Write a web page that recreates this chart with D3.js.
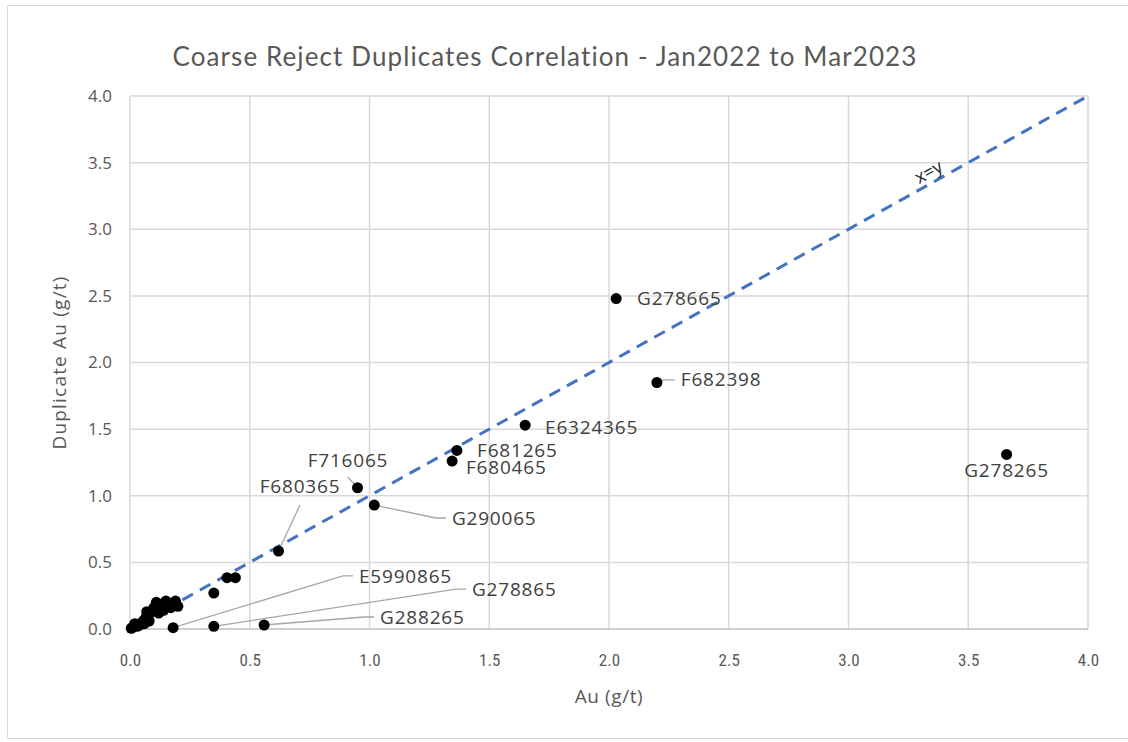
<!DOCTYPE html>
<html>
<head>
<meta charset="utf-8">
<script src="https://cdn.jsdelivr.net/npm/d3@7"></script>
<style>
  body { margin: 0; background: #fff; }
  svg { display: block; }
</style>
</head>
<body>
<svg id="chart" width="1128" height="742"></svg>
<script>
// ---- data ----
const title = "Coarse Reject Duplicates Correlation - Jan2022 to Mar2023";
const xTitle = "Au (g/t)";
const yTitle = "Duplicate Au (g/t)";
const tickValues = [0, 0.5, 1.0, 1.5, 2.0, 2.5, 3.0, 3.5, 4.0];

// unlabelled original / duplicate pairs
const auOriginal = [0.005, 0.01, 0.015, 0.02, 0.03, 0.02, 0.04, 0.05, 0.06, 0.06, 0.07, 0.08, 0.07, 0.09, 0.1, 0.11, 0.12, 0.13, 0.14, 0.15, 0.17, 0.19, 0.2, 0.35, 0.405, 0.44];
const auDuplicate = [0.005, 0.01, 0.02, 0.03, 0.02, 0.04, 0.03, 0.05, 0.07, 0.04, 0.1, 0.06, 0.13, 0.13, 0.16, 0.2, 0.12, 0.17, 0.14, 0.21, 0.16, 0.21, 0.17, 0.27, 0.385, 0.385];

// labelled samples
const sampleIds = ["G278665", "F682398", "E6324365", "F681265", "F680465", "F716065", "G290065", "F680365", "G278265", "E5990865", "G278865", "G288265"];
const sampleAu = [2.03, 2.2, 1.65, 1.365, 1.345, 0.95, 1.02, 0.62, 3.66, 0.18, 0.35, 0.56];
const sampleDup = [2.48, 1.85, 1.53, 1.34, 1.26, 1.06, 0.93, 0.585, 1.31, 0.01, 0.02, 0.03];
// label anchor positions in data units (x, y) and whether a leader line is drawn
const labelAu = [2.117, 2.30, 1.733, 1.449, 1.403, 0.91, 1.344, 0.71, 3.66, 0.956, 1.428, 1.044];
const labelDup = [2.48, 1.87, 1.516, 1.34, 1.21, 1.268, 0.833, 1.073, 1.193, 0.398, 0.30, 0.09];
const leader = [false, true, false, false, false, true, true, true, false, true, true, true];

// ---- layout ----
const svg = d3.select("#chart");
const W = 1128, H = 742;
const m = { left: 130, right: 40, top: 96, bottom: 113 };
const x = d3.scaleLinear().domain([0, 4]).range([m.left, W - m.right]);
const y = d3.scaleLinear().domain([0, 4]).range([H - m.bottom, m.top]);

const labelFont = "'Open Sans', 'Noto Sans', sans-serif";
const tickFont = "'Liberation Sans Narrow', 'Roboto Condensed', 'Liberation Sans', sans-serif";

// outer border
svg.append("rect").attr("x", 7.5).attr("y", 5.5).attr("width", W - 6).attr("height", 733)
  .attr("fill", "#fff").attr("stroke", "#d9d9d9").attr("stroke-width", 1);

// gridlines
const grid = svg.append("g");
grid.selectAll("line.v").data(tickValues).join("line")
  .attr("x1", d => x(d)).attr("x2", d => x(d))
  .attr("y1", y(0)).attr("y2", y(4))
  .attr("stroke", "#d9d9d9").attr("stroke-width", 1.5);
grid.selectAll("line.h").data(tickValues).join("line")
  .attr("x1", x(0)).attr("x2", x(4))
  .attr("y1", d => y(d)).attr("y2", d => y(d))
  .attr("stroke", d => d === 0 ? "#bfbfbf" : "#d9d9d9").attr("stroke-width", 1.5);

// axes (labels only)
const xAxis = d3.axisBottom(x).tickValues(tickValues).tickFormat(d3.format(".1f")).tickSize(0).tickPadding(25);
const gx = svg.append("g").attr("transform", `translate(0,${y(0)})`).call(xAxis);
gx.select(".domain").remove();
gx.selectAll("text").attr("font-family", tickFont).attr("font-size", 17).attr("fill", "#595959");

const yAxis = d3.axisLeft(y).tickValues(tickValues).tickFormat(d3.format(".1f")).tickSize(0).tickPadding(18);
const gy = svg.append("g").attr("transform", `translate(${x(0)},0)`).call(yAxis);
gy.select(".domain").remove();
gy.selectAll("text").attr("font-family", labelFont).attr("font-size", 17).attr("fill", "#595959");

// title
svg.append("text").attr("x", 545).attr("y", 66).attr("text-anchor", "middle")
  .attr("font-family", "Lato, 'Open Sans', sans-serif").attr("font-size", 26).attr("letter-spacing", 1.1)
  .attr("fill", "#595959").text(title);

// axis titles
svg.append("text").attr("x", x(2)).attr("y", 703).attr("text-anchor", "middle")
  .attr("font-family", labelFont).attr("font-size", 19).attr("letter-spacing", 0.6).attr("fill", "#595959").text(xTitle);
svg.append("text").attr("transform", `translate(66,${y(2)}) rotate(-90)`).attr("text-anchor", "middle")
  .attr("font-family", labelFont).attr("font-size", 19).attr("letter-spacing", 1.2).attr("fill", "#595959").text(yTitle);

// x=y line
svg.append("line").attr("x1", x(0)).attr("y1", y(0)).attr("x2", x(4)).attr("y2", y(4))
  .attr("stroke", "#4472C4").attr("stroke-width", 3).attr("stroke-dasharray", "12,8");

// x=y label
const ang = Math.atan2(y(0) - y(4), x(4) - x(0)) * 180 / Math.PI;
svg.append("text").attr("transform", `translate(${x(3.33) + 4},${y(3.33) - 8}) rotate(${-ang})`)
  .attr("text-anchor", "middle").attr("font-family", labelFont).attr("font-size", 18).attr("fill", "#262626").text("x=y");

// unlabelled points
const pts = auOriginal.map((d, i) => ({ a: d, b: auDuplicate[i] }));
svg.append("g").selectAll("circle").data(pts).join("circle")
  .attr("cx", d => x(d.a)).attr("cy", d => y(d.b)).attr("r", 5.5).attr("fill", "#000");

// labelled points
const samples = sampleIds.map((id, i) => ({ id, a: sampleAu[i], b: sampleDup[i], la: labelAu[i], lb: labelDup[i], leader: leader[i] }));

const gl = svg.append("g");
samples.filter(d => d.leader).forEach(d => {
  const px = x(d.a), py = y(d.b);
  const lx = x(d.la), ly = y(d.lb);
  let p;
  if (d.id === "F716065") {
    p = [[px, py], [lx, ly + 17]];
  } else if (d.id === "F680365") {
    p = [[px, py], [lx, ly + 19]];
  } else {
    p = [[px, py], [lx - 16, ly], [lx - 6, ly]];
  }
  gl.append("path").attr("d", d3.line()(p)).attr("fill", "none")
    .attr("stroke", "#a6a6a6").attr("stroke-width", 1.3);
});

svg.append("g").selectAll("circle").data(samples).join("circle")
  .attr("cx", d => x(d.a)).attr("cy", d => y(d.b)).attr("r", 5.5).attr("fill", "#000");

svg.append("g").selectAll("text").data(samples).join("text")
  .attr("x", d => x(d.la)).attr("y", d => y(d.lb))
  .attr("dy", "0.35em")
  .attr("text-anchor", d => (d.id === "G278265" || d.id === "F716065" || d.id === "F680365") ? "middle" : "start")
  .attr("font-family", labelFont).attr("font-size", 19).attr("letter-spacing", 0.8).attr("fill", "#404040")
  .text(d => d.id);
</script>
</body>
</html>
